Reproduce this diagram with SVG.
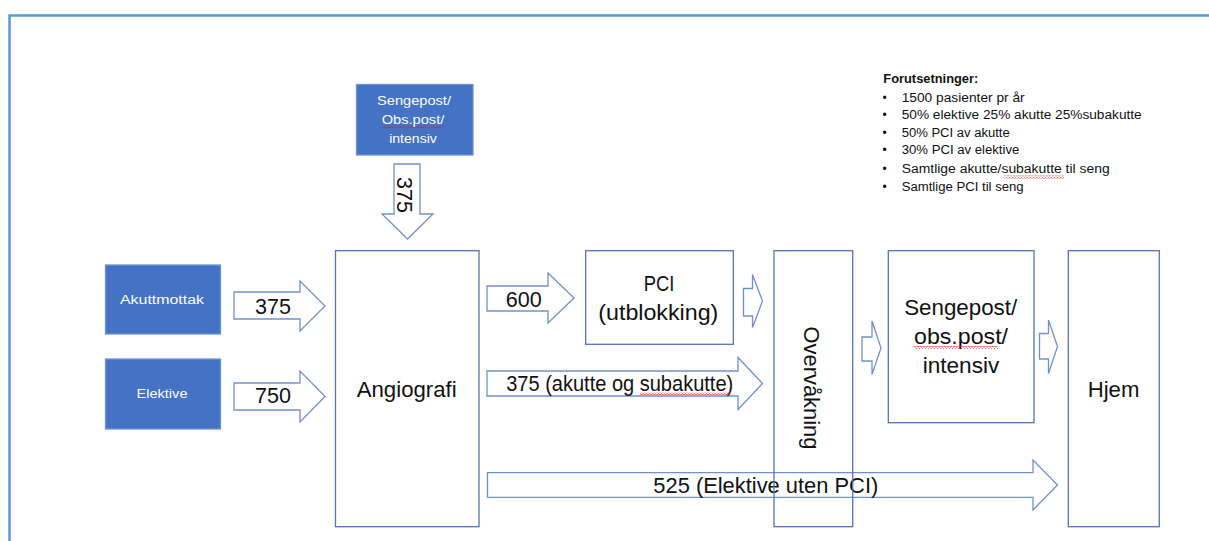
<svg xmlns="http://www.w3.org/2000/svg" width="1209" height="541" viewBox="0 0 1209 541">
<style>
.frame{stroke:#5B9BD5;stroke-width:2.5;fill:none}
.box{fill:none;stroke:#5573B5;stroke-width:1.3}
.fbox{fill:#4472C4;stroke:#6F93D3;stroke-width:1.3}
.arr{fill:#fff;stroke:#7390CB;stroke-width:1.3;stroke-linejoin:miter}
.t{font-family:"Liberation Sans",Arial,sans-serif;font-size:22px;fill:#111;text-anchor:middle}
.w{font-family:"Liberation Sans",Arial,sans-serif;font-size:12.5px;fill:#fff;text-anchor:middle}
.n{font-family:"Liberation Sans",Arial,sans-serif;font-size:12px;fill:#111}
.nb{font-family:"Liberation Sans",Arial,sans-serif;font-size:12px;fill:#111;font-weight:bold}
</style>
<defs>
<pattern id="sq" width="3" height="3" patternUnits="userSpaceOnUse">
<path d="M0,2.5 L1.5,0.5 L3,2.5" fill="none" stroke="#E02020" stroke-width="0.8"/>
</pattern>
</defs>
<rect width="1209" height="541" fill="#fff"/>
<path class="frame" d="M9.5,541 V15.5 H1209"/>

<g id="connectors">
<polygon class="arr" points="394,164 420,164 420,214 433,214 407.5,239 382,214 394,214"/>
<polygon class="arr" points="234,292 300,292 300,281 325,306 300,331 300,319 234,319"/>
<polygon class="arr" points="234,383 300,383 300,371 325,396.5 300,422 300,410 234,410"/>
<polygon class="arr" points="487,286 548,286 548,273 574,298 548,323 548,311 487,311"/>
<polygon class="arr" points="743.5,288.5 752.5,288.5 752.5,274.5 762.5,301 752.5,327.5 752.5,316 743.5,316"/>
<polygon class="arr" points="487,371 738,371 738,357.5 762.5,383.5 738,409.5 738,396 487,396"/>
<polygon class="arr" points="862,337 872,337 872,321 881,348 872,374.5 872,361 862,361"/>
<polygon class="arr" points="1039.5,333.5 1048.5,333.5 1048.5,320 1057.5,346.5 1048.5,373.5 1048.5,359 1039.5,359"/>
<polygon class="arr" points="487.5,472.7 1033,472.7 1033,460 1057.5,485 1033,510 1033,497.3 487.5,497.3"/>
<text class="t" transform="translate(397,195) rotate(90)" textLength="36" lengthAdjust="spacingAndGlyphs">375</text>
<text class="t" x="273" y="314" textLength="36" lengthAdjust="spacingAndGlyphs">375</text>
<text class="t" x="273" y="403" textLength="36" lengthAdjust="spacingAndGlyphs">750</text>
<text class="t" x="523.7" y="306.7" textLength="36" lengthAdjust="spacingAndGlyphs">600</text>
<text class="t" x="619.7" y="391" textLength="227" lengthAdjust="spacingAndGlyphs">375 (akutte og subakutte)</text>
<rect x="640" y="392" width="90" height="3" fill="url(#sq)"/>
<text class="t" x="765.8" y="493.3" textLength="225" lengthAdjust="spacingAndGlyphs">525 (Elektive uten PCI)</text>
</g>

<g id="node-sengepost-top">
<rect class="fbox" x="356.5" y="84.5" width="116.5" height="70.5"/>
<text class="w" x="414" y="105" textLength="74" lengthAdjust="spacingAndGlyphs">Sengepost/</text>
<text class="w" x="413" y="124.3" textLength="62.7" lengthAdjust="spacingAndGlyphs">Obs.post/</text>
<rect x="381.7" y="126" width="60" height="3" fill="url(#sq)"/>
<text class="w" x="413" y="143.3" textLength="47.7" lengthAdjust="spacingAndGlyphs">intensiv</text>
</g>

<g id="node-akuttmottak">
<rect class="fbox" x="105.5" y="265" width="115" height="69"/>
<text class="w" x="162" y="304" textLength="84" lengthAdjust="spacingAndGlyphs">Akuttmottak</text>
</g>

<g id="node-elektive">
<rect class="fbox" x="105.5" y="359" width="115" height="70"/>
<text class="w" x="162" y="398" textLength="51" lengthAdjust="spacingAndGlyphs">Elektive</text>
</g>

<g id="node-angiografi">
<rect class="box" x="335.5" y="250.7" width="143.5" height="276"/>
<text class="t" x="406.7" y="396.7" textLength="100" lengthAdjust="spacingAndGlyphs">Angiografi</text>
</g>

<g id="node-pci">
<rect class="box" x="585.7" y="250.7" width="147.6" height="93.6"/>
<text class="t" x="659" y="291" textLength="30.7" lengthAdjust="spacingAndGlyphs">PCI</text>
<text class="t" x="658.3" y="320" textLength="120" lengthAdjust="spacingAndGlyphs">(utblokking)</text>
</g>

<g id="node-overvakning">
<rect class="box" x="774" y="250.7" width="78.7" height="276"/>
<text class="t" transform="translate(804,388) rotate(90)" textLength="123" lengthAdjust="spacingAndGlyphs">Overvåkning</text>
</g>

<g id="node-sengepost-right">
<rect class="box" x="888.3" y="250.7" width="145.7" height="172"/>
<text class="t" x="960.7" y="315" textLength="113" lengthAdjust="spacingAndGlyphs">Sengepost/</text>
<text class="t" x="961" y="344" textLength="94" lengthAdjust="spacingAndGlyphs">obs.post/</text>
<rect x="914" y="346" width="84" height="3" fill="url(#sq)"/>
<text class="t" x="961" y="373" textLength="76.7" lengthAdjust="spacingAndGlyphs">intensiv</text>
</g>

<g id="node-hjem">
<rect class="box" x="1068.3" y="250.7" width="91" height="276"/>
<text class="t" x="1113.5" y="396.7" textLength="51.7" lengthAdjust="spacingAndGlyphs">Hjem</text>
</g>

<g id="node-forutsetninger">
<text class="nb" x="883.3" y="82.7" textLength="95" lengthAdjust="spacingAndGlyphs">Forutsetninger:</text>
<g class="n">
<text x="882.5" y="101.7">•</text>
<text x="901.7" y="101.7" textLength="123" lengthAdjust="spacingAndGlyphs">1500 pasienter pr år</text>
<text x="882.5" y="119.3">•</text>
<text x="901.7" y="119.3" textLength="240" lengthAdjust="spacingAndGlyphs">50% elektive 25% akutte 25%subakutte</text>
<text x="882.5" y="136.7">•</text>
<text x="901.7" y="136.7" textLength="108" lengthAdjust="spacingAndGlyphs">50% PCI av akutte</text>
<text x="882.5" y="154.3">•</text>
<text x="901.7" y="154.3" textLength="117.6" lengthAdjust="spacingAndGlyphs">30% PCI av elektive</text>
<text x="882.5" y="173.3">•</text>
<text x="901.7" y="173.3" textLength="208" lengthAdjust="spacingAndGlyphs">Samtlige akutte/subakutte til seng</text>
<text x="882.5" y="191">•</text>
<text x="901.7" y="191" textLength="122" lengthAdjust="spacingAndGlyphs">Samtlige PCI til seng</text>
</g>
<rect x="1003.3" y="175.5" width="60.7" height="3" fill="url(#sq)"/>
</g>
</svg>
